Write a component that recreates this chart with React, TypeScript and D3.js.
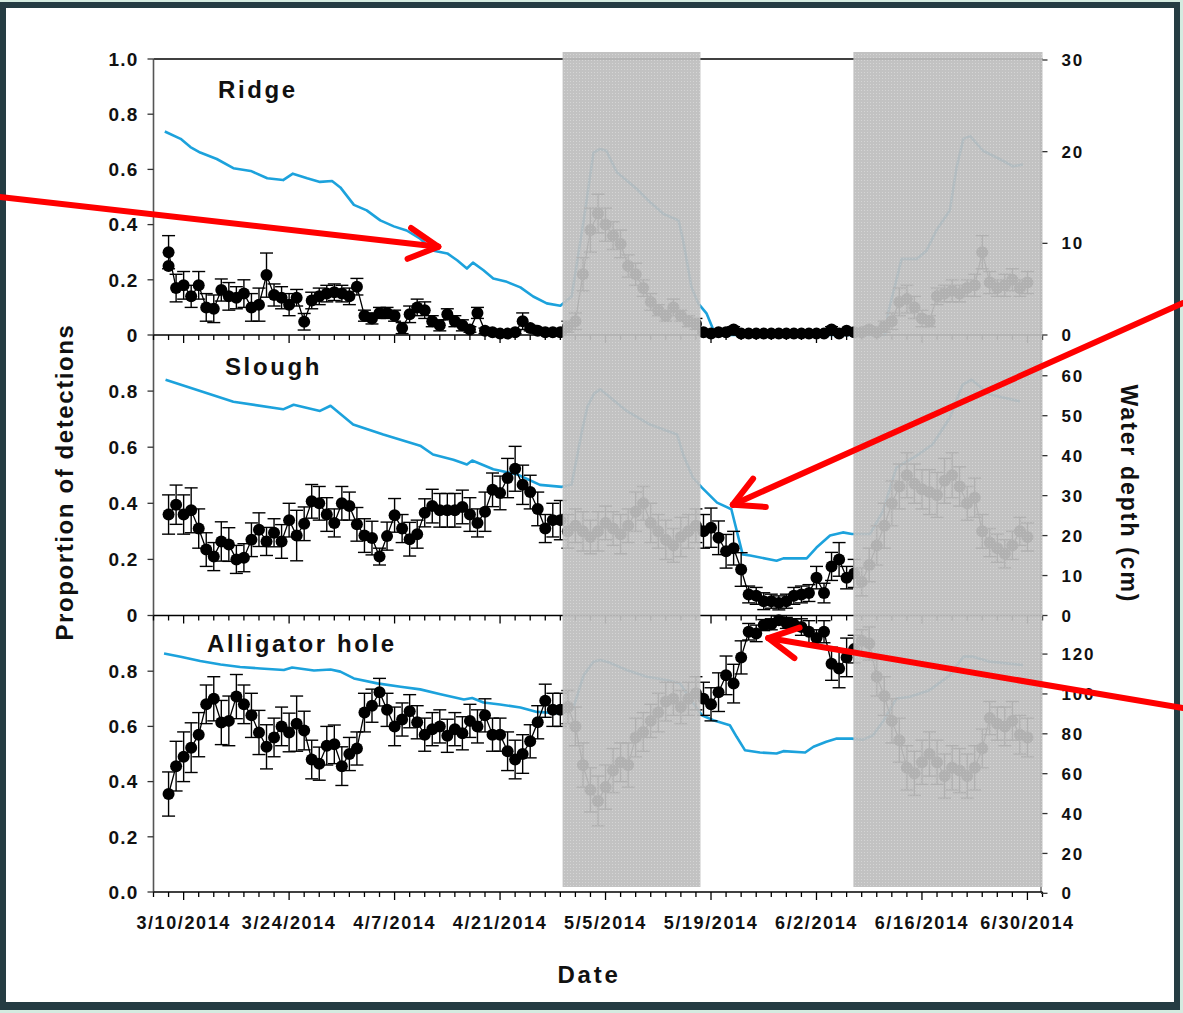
import React from "react";
import * as d3 from "d3";

// ---------- data (day offsets counted from 3/6/2014) ----------
const startDate = new Date(2014, 2, 6);
const totalDays = 118;
const firstObsDay = 2; // 3/8/2014

const xTickLabels = ["3/10/2014", "3/24/2014", "4/7/2014", "4/21/2014", "5/5/2014", "5/19/2014", "6/2/2014", "6/16/2014", "6/30/2014"];
const shadedStartDays = [54.3, 92.9];
const shadedEndDays = [72.6, 118];

const ridgeValues = [
  0.30, 0.17, 0.18, 0.14, 0.18, 0.10, 0.095, 0.163, 0.14, 0.135, 0.15, 0.10, 0.11, 0.217, 0.145, 0.135, 0.11, 0.135, 0.048, 0.125, 0.14, 0.15, 0.155, 0.15, 0.14, 0.175,
  0.07, 0.06, 0.08, 0.08, 0.07, 0.025, 0.075, 0.10, 0.09, 0.05, 0.035, 0.075, 0.05, 0.035, 0.02, 0.08, 0.015, 0.01, 0.005, 0.005, 0.01, 0.05, 0.025, 0.015, 0.01, 0.01, 0.01,
  0.03, 0.05, 0.22, 0.38, 0.44, 0.40, 0.36, 0.33, 0.25, 0.22, 0.17, 0.12, 0.09, 0.07, 0.10, 0.07, 0.05, 0.04,
  0.01, 0.005, 0.01, 0.01, 0.02, 0.005, 0.005, 0.005, 0.005, 0.005, 0.005, 0.005, 0.005, 0.005, 0.005, 0.005, 0.005, 0.02, 0.005, 0.015,
  0.01, 0.01, 0.02, 0.01, 0.03, 0.05, 0.12, 0.13, 0.10, 0.06, 0.05, 0.14, 0.15, 0.16, 0.15, 0.17, 0.18, 0.30, 0.19, 0.17, 0.18, 0.20, 0.17, 0.19,
];
const ridgeExtraDay = [2];
const ridgeExtraValue = [0.25];
const ridgeErrors = [
  0.06, 0.05, 0.05, 0.04, 0.05, 0.05, 0.05, 0.04, 0.05, 0.04, 0.05, 0.05, 0.06, 0.08, 0.04, 0.04, 0.04, 0.03, 0.03, 0.03, 0.03, 0.03, 0.03, 0.03, 0.03, 0.03,
  0.02, 0.02, 0.02, 0.02, 0.02, 0.02, 0.03, 0.03, 0.03, 0.02, 0.02, 0.02, 0.02, 0.02, 0.01, 0.02, 0.01, 0.005, 0.005, 0.005, 0.005, 0.03, 0.01, 0.01, 0.005, 0.005, 0.005,
  0.02, 0.03, 0.06, 0.08, 0.07, 0.06, 0.05, 0.05, 0.04, 0.04, 0.03, 0.03, 0.02, 0.02, 0.03, 0.02, 0.02, 0.02,
  0.005, 0.005, 0.005, 0.005, 0.01, 0.005, 0.005, 0.005, 0.005, 0.005, 0.005, 0.005, 0.005, 0.005, 0.005, 0.005, 0.005, 0.01, 0.005, 0.005,
  0.01, 0.01, 0.01, 0.01, 0.02, 0.03, 0.05, 0.05, 0.04, 0.03, 0.02, 0.03, 0.03, 0.04, 0.03, 0.03, 0.04, 0.06, 0.04, 0.03, 0.04, 0.04, 0.03, 0.04,
];

const sloughValues = [
  0.36, 0.395, 0.36, 0.375, 0.31, 0.235, 0.21, 0.264, 0.253, 0.20, 0.206, 0.27, 0.306, 0.264, 0.295, 0.264, 0.34, 0.285, 0.327, 0.407,
  0.40, 0.36, 0.33, 0.40, 0.39, 0.325, 0.285, 0.276, 0.21, 0.283, 0.357, 0.31, 0.272, 0.29, 0.366, 0.39, 0.375, 0.375, 0.375, 0.387,
  0.36, 0.33, 0.37, 0.448, 0.437, 0.49, 0.523, 0.466, 0.44, 0.38, 0.31, 0.34, 0.34,
  0.30, 0.32, 0.30, 0.28, 0.30, 0.33, 0.31, 0.29, 0.32, 0.37, 0.40, 0.33, 0.30, 0.27, 0.25, 0.28, 0.30, 0.32,
  0.30, 0.313, 0.277, 0.229, 0.24, 0.164, 0.075, 0.07, 0.051, 0.051, 0.045, 0.051, 0.07, 0.075, 0.08, 0.135, 0.08, 0.175, 0.20, 0.135,
  0.15, 0.12, 0.18, 0.25, 0.32, 0.40, 0.46, 0.50, 0.47, 0.45, 0.44, 0.43, 0.48, 0.50, 0.46, 0.40, 0.42, 0.30, 0.26, 0.24, 0.22, 0.25, 0.30, 0.28,
];
const sloughErrors = [
  0.07, 0.07, 0.07, 0.08, 0.07, 0.06, 0.05, 0.07, 0.06, 0.05, 0.05, 0.06, 0.06, 0.05, 0.05, 0.06, 0.06, 0.09, 0.06, 0.06,
  0.06, 0.06, 0.05, 0.06, 0.05, 0.06, 0.06, 0.06, 0.03, 0.05, 0.06, 0.05, 0.06, 0.05, 0.05, 0.06, 0.06, 0.06, 0.06, 0.06,
  0.06, 0.05, 0.07, 0.06, 0.06, 0.07, 0.08, 0.07, 0.06, 0.06, 0.05, 0.06, 0.07,
  0.06, 0.06, 0.07, 0.06, 0.07, 0.06, 0.06, 0.07, 0.06, 0.07, 0.06, 0.07, 0.06, 0.07, 0.06, 0.07, 0.06, 0.06,
  0.06, 0.07, 0.06, 0.06, 0.06, 0.06, 0.03, 0.03, 0.03, 0.025, 0.025, 0.025, 0.03, 0.03, 0.03, 0.04, 0.035, 0.05, 0.06, 0.04,
  0.05, 0.05, 0.06, 0.07, 0.08, 0.08, 0.08, 0.08, 0.07, 0.07, 0.08, 0.08, 0.08, 0.08, 0.07, 0.06, 0.07, 0.06, 0.05, 0.05, 0.05, 0.05, 0.05, 0.05,
];

const alligatorValues = [
  0.355, 0.456, 0.49, 0.523, 0.57, 0.68, 0.70, 0.614, 0.62, 0.708, 0.68, 0.64, 0.578, 0.526, 0.56, 0.60, 0.578, 0.61, 0.585, 0.48,
  0.465, 0.53, 0.535, 0.456, 0.50, 0.52, 0.65, 0.675, 0.724, 0.66, 0.60, 0.625, 0.655, 0.615, 0.57, 0.59, 0.60, 0.566, 0.59, 0.575,
  0.62, 0.60, 0.64, 0.57, 0.57, 0.51, 0.48, 0.50, 0.546, 0.615, 0.693, 0.66, 0.66,
  0.67, 0.60, 0.46, 0.37, 0.33, 0.38, 0.44, 0.47, 0.46, 0.56, 0.58, 0.62, 0.65, 0.69, 0.70, 0.67, 0.70, 0.72,
  0.70, 0.68, 0.724, 0.785, 0.755, 0.85, 0.943, 0.937, 0.967, 0.97, 0.985, 0.975, 0.97, 0.96, 0.943, 0.92, 0.943, 0.827, 0.81, 0.85,
  0.88, 0.91, 0.90, 0.78, 0.71, 0.62, 0.55, 0.45, 0.43, 0.47, 0.50, 0.47, 0.42, 0.45, 0.44, 0.42, 0.45, 0.52, 0.63, 0.61, 0.60, 0.62, 0.57, 0.56,
];
const alligatorErrors = [
  0.08, 0.09, 0.09, 0.09, 0.08, 0.07, 0.08, 0.08, 0.09, 0.08, 0.07, 0.08, 0.08, 0.08, 0.07, 0.07, 0.07, 0.10, 0.07, 0.07,
  0.06, 0.07, 0.07, 0.07, 0.06, 0.06, 0.07, 0.06, 0.05, 0.06, 0.07, 0.06, 0.06, 0.06, 0.06, 0.06, 0.06, 0.06, 0.06, 0.06,
  0.06, 0.06, 0.06, 0.06, 0.06, 0.07, 0.07, 0.07, 0.06, 0.06, 0.06, 0.06, 0.06,
  0.06, 0.07, 0.08, 0.08, 0.09, 0.08, 0.08, 0.07, 0.08, 0.07, 0.07, 0.06, 0.07, 0.07, 0.06, 0.06, 0.06, 0.06,
  0.06, 0.06, 0.07, 0.07, 0.07, 0.06, 0.03, 0.03, 0.02, 0.02, 0.015, 0.02, 0.02, 0.03, 0.04, 0.03, 0.04, 0.06, 0.07, 0.07,
  0.05, 0.04, 0.06, 0.07, 0.07, 0.08, 0.08, 0.08, 0.08, 0.08, 0.08, 0.08, 0.08, 0.08, 0.08, 0.08, 0.08, 0.07, 0.06, 0.06, 0.07, 0.07, 0.07, 0.07,
];

// water depth (cm), breakpoints
const ridgeDepthDays = [1.5, 3.6, 4.9, 6.2, 8.4, 10.6, 12.9, 15.1, 17.2, 18.5, 20.4, 22.1, 23.7, 24.8, 26.6, 28.3, 30.1, 31.9, 33.6, 35.4, 37.2, 39, 40.3, 41.6, 42.4, 43.8, 45.1, 46.9, 48.7, 50.4, 52.2, 54, 55.5, 57.1, 58.4, 59.3, 60.1, 61.5, 64.2, 65.9, 67.7, 69.7, 70.3, 71.4, 72.3, 73.4, 74.5, 75, 97.1, 97.5, 99.3, 101.3, 102.6, 103.9, 105.7, 106.6, 107.5, 108.4, 110.1, 112.3, 114.1, 115.4];
const ridgeDepth = [22.2, 21.4, 20.5, 19.9, 19.2, 18.2, 17.9, 17.1, 16.9, 17.6, 17.1, 16.7, 16.8, 16.1, 14.2, 13.6, 12.5, 11.85, 11.4, 10.5, 9.2, 8.9, 8.15, 7.25, 7.9, 7.07, 6.16, 5.8, 5.2, 4.2, 3.45, 3.2, 4.2, 12.5, 19.9, 20.3, 20.1, 17.75, 15.9, 14.5, 13.2, 12.5, 10.3, 5.25, 3.45, 2.36, 0.2, 0, 0, 2.36, 8.3, 8.3, 9.2, 11.4, 13.6, 18.3, 21.4, 21.7, 20.1, 19.2, 18.4, 18.6];

const sloughDepthDays = [1.6, 10.6, 17.2, 18.6, 22.1, 23.5, 26.5, 30.5, 35.4, 37.1, 39.8, 41.6, 42.3, 45.1, 48.3, 51.3, 54.2, 55.5, 56.9, 57.6, 58.5, 59.3, 62.8, 65.9, 69.5, 70.3, 71.6, 72.8, 74.8, 76.7, 78.2, 79.2, 82.7, 83.6, 86.7, 88, 89.8, 91.5, 92.7, 95.1, 96.8, 98.6, 101.3, 103.4, 105.7, 107.4, 108.6, 111, 115];
const sloughDepth = [59, 53.5, 51.6, 52.75, 51.2, 52.5, 47.8, 45.3, 42.5, 40.3, 39, 37.8, 38.8, 36.6, 35.3, 32.7, 32.2, 32.8, 46.4, 52.3, 55.6, 56.6, 51.2, 47.8, 45.3, 40.3, 34.5, 32, 28.25, 26.6, 15.3, 15, 13.7, 14.3, 14.3, 17, 20, 20.8, 20.4, 20.4, 26, 37, 40, 42.8, 49.5, 57.8, 59, 55.3, 53.6];

const alligatorDepthDays = [1.4, 3.6, 6.2, 8.9, 11.5, 14.2, 17.3, 18.4, 21.3, 23.5, 24.8, 26.6, 29.7, 32.8, 35.4, 38.1, 41.2, 42.3, 43.8, 46, 48.7, 50.9, 54.2, 55.7, 57.1, 58.4, 59.3, 60.6, 62.8, 65.5, 68.1, 69.9, 71.2, 72.8, 74.3, 76.5, 77.4, 78.5, 80.5, 82.7, 83.6, 86.5, 87.6, 89.3, 90.7, 92.7, 94.2, 95.5, 96.8, 98.6, 100.4, 103, 105.7, 107.5, 108.8, 111, 115.4];
const alligatorDepth = [120.3, 118.7, 116.5, 114.8, 113.5, 112.8, 112, 113.3, 111.8, 112.3, 111.2, 107.8, 105.3, 103.6, 102.3, 99.9, 97.2, 98, 95.7, 94.7, 93.2, 91, 90.2, 92.7, 109.4, 116.2, 117, 115.6, 112, 108.6, 107, 105.2, 97.7, 89.3, 86.8, 84.3, 78.5, 71.8, 70.6, 70.1, 71.3, 70.6, 73.5, 76, 77.6, 77.6, 77.1, 79.3, 86, 97.7, 98.6, 101.9, 109.4, 118.7, 118.7, 116.2, 114.5];

const panelNames = ["Ridge", "Slough", "Alligator hole"];
const leftTickValues = [[0, 0.2, 0.4, 0.6, 0.8, 1.0], [0, 0.2, 0.4, 0.6, 0.8], [0, 0.2, 0.4, 0.6, 0.8]];
const leftTickLabels = [["0", "0.2", "0.4", "0.6", "0.8", "1.0"], ["0", "0.2", "0.4", "0.6", "0.8"], ["0.0", "0.2", "0.4", "0.6", "0.8"]];
const rightTickValues = [[0, 10, 20, 30], [0, 10, 20, 30, 40, 50, 60], [0, 20, 40, 60, 80, 100, 120]];

// annotation arrows (tips in data space)
const arrowPanels = [0, 1, 2];
const arrowTipDays = [37.8, 76.9, 81.6];
const arrowTipValues = [0.32, 0.395, 0.92];

// ---------- drawing ----------
const W = 1183;
const H = 1013;
const FONT = "'Liberation Sans', Arial, Helvetica, sans-serif";
const BLUE = "#1ca2dc";
const dayMs = 86400000;
const dayToDate = (d: number) => new Date(startDate.getTime() + d * dayMs);

const X0 = 153.5;
const X1 = 1042.5;

const panelLayout = [
  { top: 59, bottom: 335, rightDomain: [0, 30], rightTop: 60 },
  { top: 335, bottom: 615.5, rightDomain: [0, 70.2], rightTop: 335 },
  { top: 616, bottom: 892, rightDomain: [0.65, 139.1], rightTop: 616 },
];
const titlePos = [
  [218, 98],
  [225, 375],
  [207, 652],
];
const arrowTails = [
  [0, 197],
  [1183, 303],
  [1183, 708],
];

export default function App() {
  const x = d3.scaleTime().domain([dayToDate(0), dayToDate(totalDays)]).range([X0, X1]);
  const parse = d3.timeParse("%m/%d/%Y");

  const seriesValues = [ridgeValues, sloughValues, alligatorValues];
  const seriesErrors = [ridgeErrors, sloughErrors, alligatorErrors];
  const depthDays = [ridgeDepthDays, sloughDepthDays, alligatorDepthDays];
  const depthVals = [ridgeDepth, sloughDepth, alligatorDepth];

  const panels = panelLayout.map((p, i) => {
    const yL = d3.scaleLinear().domain([0, 1]).range([p.bottom, p.top]);
    const yR = d3.scaleLinear().domain(p.rightDomain).range([p.bottom, p.rightTop]);
    const pts = seriesValues[i].map((v, k) => ({
      x: x(dayToDate(firstObsDay + k)),
      v,
      e: seriesErrors[i][k] ?? 0.06,
    }));
    const depthPts = depthDays[i].map((d, k) => [x(dayToDate(d)), yR(depthVals[i][k])] as [number, number]);
    return { ...p, yL, yR, pts, depthPts, i };
  });

  const lineGen = d3.line<[number, number]>().x((d) => d[0]).y((d) => d[1]);
  const ptLine = (pts: { x: number; v: number }[], yL: d3.ScaleLinear<number, number>) =>
    lineGen(pts.map((p) => [p.x, yL(p.v)] as [number, number])) || "";

  const tickDays = d3.range(0, totalDays + 1, 2);
  const labelDates = xTickLabels.map((l) => parse(l) as Date);
  const majorDaySet = new Set(labelDates.map((d) => Math.round((d.getTime() - startDate.getTime()) / dayMs)));

  const bandTop = panelLayout[0].top - 7;
  const bandBottom = panelLayout[2].bottom - 5;

  const arrowShapes = arrowPanels.map((pi, k) => {
    const tip: [number, number] = [x(dayToDate(arrowTipDays[k])), panels[pi].yL(arrowTipValues[k])];
    const tail = arrowTails[k];
    const ang = Math.atan2(tail[1] - tip[1], tail[0] - tip[0]);
    const L = 33;
    const a = (28 * Math.PI) / 180;
    const arm1 = [tip[0] + L * Math.cos(ang + a), tip[1] + L * Math.sin(ang + a)];
    const arm2 = [tip[0] + L * Math.cos(ang - a), tip[1] + L * Math.sin(ang - a)];
    return { tip, tail, arm1, arm2 };
  });

  const textBold = { fontFamily: FONT, fontWeight: 700 as const, fill: "#111" };
  const R = 6;

  return (
    <svg
      width={W}
      height={H}
      viewBox={`0 0 ${W} ${H}`}
      style={{ position: "absolute", left: 0, top: 0, display: "block", background: "#fff" }}
    >
      <defs>
        <pattern id="dots" width="3" height="3" patternUnits="userSpaceOnUse">
          <rect width="3" height="3" fill="#bdbdbd" />
          <rect width="1" height="1" fill="#d2d2d2" />
        </pattern>
      </defs>

      {/* frame */}
      <rect x={0} y={0} width={W} height={H} fill="#d4ebe0" />
      <rect x={0} y={2} width={W - 3} height={H - 5} fill="#253c43" />
      <rect x={6} y={8} width={W - 15} height={H - 19} fill="#ffffff" />

      {/* data */}
      {panels.map((p) => (
        <g key={"data" + p.i}>
          <path d={lineGen(p.depthPts) || ""} fill="none" stroke={BLUE} strokeWidth={2.6} strokeLinejoin="round" />
          <path d={ptLine(p.pts, p.yL)} fill="none" stroke="#000" strokeWidth={1.3} />
          {p.pts.map((d, k) => {
            const yTop = p.yL(Math.min(1, d.v + d.e));
            const yBot = p.yL(Math.max(0, d.v - d.e));
            return (
              <g key={k} stroke="#000" strokeWidth={1.4}>
                <line x1={d.x} x2={d.x} y1={yTop} y2={yBot} />
                <line x1={d.x - 6.5} x2={d.x + 6.5} y1={yTop} y2={yTop} />
                <line x1={d.x - 6.5} x2={d.x + 6.5} y1={yBot} y2={yBot} />
              </g>
            );
          })}
          {p.pts.map((d, k) => (
            <circle key={"c" + k} cx={d.x} cy={p.yL(d.v)} r={R} fill="#000" />
          ))}
          {p.i === 0 &&
            ridgeExtraDay.map((d, k) => (
              <circle key={"ex" + k} cx={x(dayToDate(d))} cy={p.yL(ridgeExtraValue[k])} r={R} fill="#000" />
            ))}
        </g>
      ))}

      {/* axes */}
      <line x1={X0} x2={X1} y1={panelLayout[0].top} y2={panelLayout[0].top} stroke="#000" strokeWidth={1.6} />
      <line x1={X0} x2={X0} y1={panelLayout[0].top} y2={panelLayout[2].bottom} stroke="#555" strokeWidth={1.6} />
      <line x1={X1 - 1.5} x2={X1 - 1.5} y1={panelLayout[0].top} y2={panelLayout[2].bottom} stroke="#555" strokeWidth={1.3} />
      {panels.map((p) => (
        <g key={"ax" + p.i}>
          <line x1={X0} x2={X1} y1={p.bottom} y2={p.bottom} stroke="#000" strokeWidth={1.6} />
          {tickDays.map((d) => {
            const xx = x(dayToDate(d));
            const major = majorDaySet.has(d);
            return <line key={d} x1={xx} x2={xx} y1={p.bottom} y2={p.bottom + (major ? 8 : 5)} stroke="#000" strokeWidth={1.3} />;
          })}
          {leftTickValues[p.i].map((v, k) => (
            <g key={"l" + k}>
              <line x1={X0 - 6} x2={X0} y1={p.yL(v)} y2={p.yL(v)} stroke="#333" strokeWidth={1.3} />
              <text x={X0 - 15} y={p.yL(v)} dy="0.36em" textAnchor="end" fontSize={19} letterSpacing={1.2} {...textBold}>
                {leftTickLabels[p.i][k]}
              </text>
            </g>
          ))}
          {rightTickValues[p.i].map((v, k) => (
            <g key={"r" + k}>
              <line x1={X1 - 1.5} x2={X1 + 5} y1={p.yR(v)} y2={p.yR(v)} stroke="#333" strokeWidth={1.3} />
              <text x={X1 + 19} y={p.yR(v)} dy="0.36em" textAnchor="start" fontSize={17} letterSpacing={1.8} {...textBold}>
                {String(v)}
              </text>
            </g>
          ))}
        </g>
      ))}

      {/* x tick labels */}
      {labelDates.map((d, k) => (
        <text key={"xl" + k} x={x(d)} y={929} textAnchor="middle" fontSize={18} letterSpacing={1.6} {...textBold}>
          {xTickLabels[k]}
        </text>
      ))}

      {/* shaded periods */}
      <g opacity={0.93}>
        {shadedStartDays.map((s, k) => {
          const xa = x(dayToDate(s));
          const xb = Math.min(x(dayToDate(shadedEndDays[k])), X1);
          return <rect key={"band" + k} x={xa} y={bandTop} width={xb - xa} height={bandBottom - bandTop} fill="url(#dots)" />;
        })}
      </g>

      {/* panel titles */}
      {panelNames.map((n, k) => (
        <text key={"t" + k} x={titlePos[k][0]} y={titlePos[k][1]} fontSize={24} letterSpacing={2.6} {...textBold}>
          {n}
        </text>
      ))}

      {/* axis titles */}
      <text transform={`translate(73,482) rotate(-90)`} textAnchor="middle" fontSize={24} letterSpacing={1.6} {...textBold}>
        Proportion of detections
      </text>
      <text transform={`translate(1121,494) rotate(90)`} textAnchor="middle" fontSize={23} letterSpacing={2} {...textBold}>
        Water depth (cm)
      </text>
      <text x={589} y={983} textAnchor="middle" fontSize={24} letterSpacing={2.8} {...textBold}>
        Date
      </text>

      {/* annotation arrows */}
      {arrowShapes.map((a, k) => (
        <g key={"arrow" + k} stroke="#ff0000" strokeWidth={6} strokeLinecap="round" fill="none">
          <line x1={a.tail[0]} y1={a.tail[1]} x2={a.tip[0]} y2={a.tip[1]} />
          <line x1={a.tip[0]} y1={a.tip[1]} x2={a.arm1[0]} y2={a.arm1[1]} />
          <line x1={a.tip[0]} y1={a.tip[1]} x2={a.arm2[0]} y2={a.arm2[1]} />
        </g>
      ))}
    </svg>
  );
}
